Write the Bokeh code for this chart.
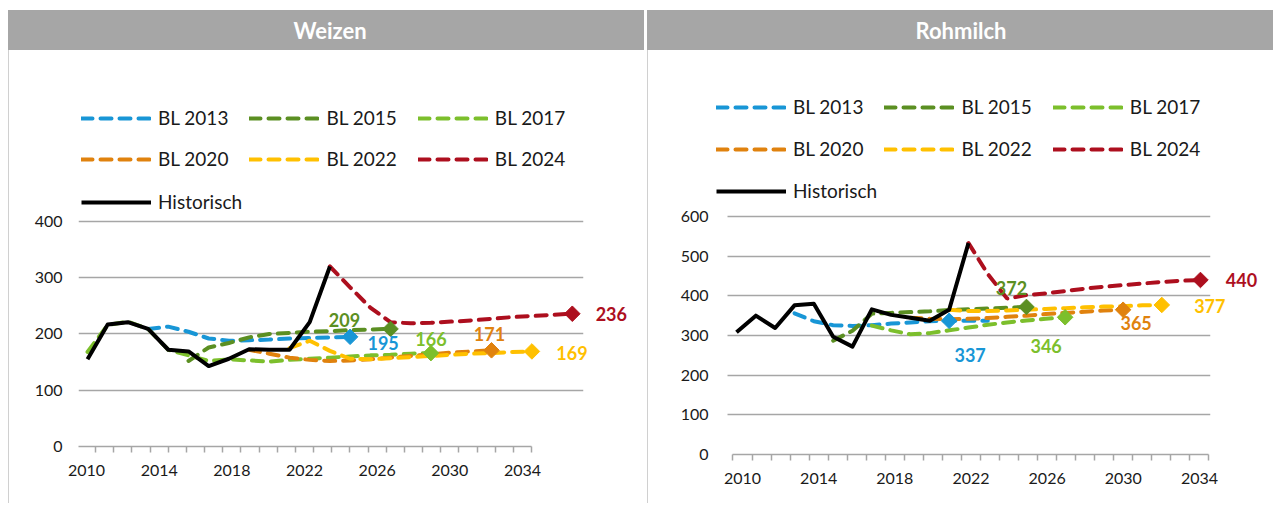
import math
from bokeh.plotting import figure
from bokeh.models import Range1d, LinearAxis, FixedTicker, Legend, LegendItem, Grid
from bokeh.layouts import row, column
from bokeh.embed import file_html
from bokeh.resources import INLINE
from bokeh.core.properties import value

FONT = "Lato"
GRID = "#a6a6a6"
HEAD = "#a6a6a6"
TEXT = "#1a1a1a"

# ---------------- data ----------------
series_names = ["BL 2013", "BL 2015", "BL 2017", "BL 2020", "BL 2022", "BL 2024"]
series_colors = ["#1896d6", "#5b8f22", "#7cbf2c", "#e0820e", "#ffc000", "#ad0f1e"]
hist_name = "Historisch"
tick_years = [2010, 2014, 2018, 2022, 2026, 2030, 2034]
category_years = list(range(2010, 2035))

# Weizen
w_hist_years = list(range(2010, 2023))
w_hist = [155, 217, 221, 209, 172, 169, 143, 156, 173, 172, 172, 221, 320]
w_years = [
    list(range(2013, 2024)),
    list(range(2015, 2026)),
    list(range(2010, 2028)),
    list(range(2018, 2031)),
    list(range(2020, 2033)),
    list(range(2022, 2035)),
]
w_values = [
    [209, 213, 204, 192, 188, 189, 190, 192, 193, 194, 195],
    [152, 176, 184, 194, 200, 202, 204, 205, 207, 208, 209],
    [168, 216, 222, 209, 172, 162, 152, 155, 153, 151, 154, 156, 158, 160, 162, 163, 165, 166],
    [172, 165, 158, 154, 152, 153, 155, 158, 161, 164, 167, 169, 171],
    [175, 188, 170, 156, 155, 157, 159, 161, 163, 165, 166, 168, 169],
    [320, 283, 247, 221, 219, 220, 222, 224, 227, 230, 232, 234, 236],
]
w_marker_years = [2023, 2025, 2027, 2030, 2032, 2034]
w_yticks = [0, 100, 200, 300, 400]

# Rohmilch
r_hist_years = list(range(2010, 2023))
r_hist = [308, 350, 319, 376, 380, 297, 272, 366, 352, 345, 337, 365, 533]
r_years = [
    list(range(2013, 2024)),
    list(range(2015, 2026)),
    list(range(2017, 2028)),
    list(range(2019, 2031)),
    list(range(2021, 2033)),
    list(range(2022, 2035)),
]
r_values = [
    [356, 336, 326, 324, 326, 330, 333, 336, 337, 337, 337],
    [287, 312, 355, 357, 359, 361, 364, 366, 368, 370, 372],
    [325, 313, 303, 306, 313, 320, 327, 333, 338, 342, 346],
    [345, 342, 341, 342, 344, 347, 350, 354, 357, 360, 363, 365],
    [365, 362, 362, 363, 365, 367, 369, 371, 373, 374, 376, 377],
    [533, 455, 393, 402, 406, 412, 418, 423, 427, 431, 435, 438, 440],
]
r_marker_years = [2021, 2025, 2027, 2030, 2032, 2034]
r_yticks = [0, 100, 200, 300, 400, 500, 600]

# ---------------- styling / layout ----------------
HAS_CROSS = "cross_bounds" in Grid.properties()

w_cfg = dict(
    title="Weizen", width=636, mb_left=69, mb_right=62, mb_bottom=57,
    data_x=(2009.554, 2034.554), axis_x=(2009.555, 2037.36), y_end=686.2,
    leg_x=3, leg_y=[317, 276, 233], standoff=16, cross=None,
    label_dx=[33, -46, 0, -2, 40, 39], label_dy=[6, -9, -14, -16, 2, 0],
)
if HAS_CROSS:
    r_cfg = dict(
        title="Rohmilch", width=626, mb_left=65, mb_right=64, mb_bottom=49,
        data_x=(2008.81, 2034.52), axis_x=(2008.476, 2034.58), y_end=993.3,
        leg_x=3, leg_y=[336, 294, 252], standoff=5, cross=(2009.534, 2034.52),
        label_dx=[21, -15, -19, 13, 48, 41], label_dy=[34, -19, 29, 13, 1, 0],
    )
else:
    r_cfg = dict(
        title="Rohmilch", width=626, mb_left=79, mb_right=64, mb_bottom=49,
        data_x=(2009.534, 2034.52), axis_x=(2009.211, 2034.58), y_end=993.3,
        leg_x=-11, leg_y=[336, 294, 252], standoff=18, cross=None,
        label_dx=[21, -15, -19, 13, 48, 41], label_dy=[34, -19, 29, 13, 1, 0],
    )


def header(title, width):
    h = figure(width=width, height=40, x_range=Range1d(0, 1), y_range=Range1d(0, 1),
               x_axis_type=None, y_axis_type=None, output_backend="svg",
               toolbar_location=None, min_border_left=0, min_border_right=0,
               min_border_top=0, min_border_bottom=0,
               background_fill_color=HEAD, border_fill_color=HEAD,
               outline_line_color=None)
    bg = h.rect(x=[0.5], y=[0.5], width=[3000], height=[200], width_units="screen",
                height_units="screen", fill_color=HEAD, line_color=None)
    bg.level = "annotation"
    t = h.text(x=[0.5], y=[0.5], text=[title], text_align="center", text_baseline="middle",
               text_color="white", text_font=value(FONT), text_font_style="bold",
               text_font_size="22px")
    t.level = "annotation"
    return h


def chart(cfg, hist_years, hist, years, values, marker_years, yticks):
    p = figure(width=cfg["width"], height=453,
               x_range=Range1d(*cfg["data_x"]), y_range=Range1d(0, cfg["y_end"]),
               x_axis_type=None, y_axis_type=None, output_backend="svg",
               toolbar_location=None, min_border_left=cfg["mb_left"],
               min_border_right=cfg["mb_right"], min_border_top=10,
               min_border_bottom=cfg["mb_bottom"], outline_line_color=None,
               background_fill_color="white", border_fill_color="white")
    p.extra_x_ranges = {"ax": Range1d(*cfg["axis_x"])}

    xa = LinearAxis(x_range_name="ax",
                    ticker=FixedTicker(ticks=tick_years,
                                       minor_ticks=[y - 0.5 for y in category_years + [2035]]),
                    bounds=(2009.5, 2034.5))
    xa.axis_line_color = GRID
    xa.axis_line_width = 1.5
    xa.major_tick_out = 0
    xa.major_tick_in = 0
    xa.minor_tick_out = 6
    xa.minor_tick_in = 0
    xa.minor_tick_line_color = GRID
    xa.minor_tick_line_width = 1.5
    xa.major_label_standoff = 12
    xa.major_label_text_font = FONT
    xa.major_label_text_font_size = "16px"
    xa.major_label_text_color = TEXT
    p.add_layout(xa, "below")

    yt = FixedTicker(ticks=yticks, minor_ticks=[])
    ya = LinearAxis(ticker=yt)
    ya.axis_line_color = None
    ya.major_tick_line_color = None
    ya.minor_tick_line_color = None
    ya.major_tick_out = 0
    ya.major_tick_in = 0
    ya.minor_tick_out = 0
    ya.major_label_standoff = cfg["standoff"]
    ya.major_label_text_font = FONT
    ya.major_label_text_font_size = "16px"
    ya.major_label_text_color = TEXT
    p.add_layout(ya, "left")
    g = Grid(dimension=1, ticker=yt, grid_line_color=GRID, grid_line_width=1.5)
    if cfg["cross"] is not None:
        g.cross_bounds = cfg["cross"]
    p.add_layout(g)

    renderers = []
    for i, name in enumerate(series_names):
        r = p.line(years[i], values[i], line_color=series_colors[i], line_width=4,
                   line_dash="11 8", line_cap="round")
        renderers.append(r)
    rh = p.line(hist_years, hist, line_color="black", line_width=4, line_join="round")
    renderers.append(rh)

    # end markers and value labels
    for i, name in enumerate(series_names):
        my = marker_years[i]
        mv = values[i][years[i].index(my)]
        p.scatter([my], [mv], marker="square", angle=math.pi / 4, size=11,
                  color=series_colors[i])
        t = p.text(x=[my], y=[mv], text=[str(mv)], x_offset=cfg["label_dx"][i],
                   y_offset=cfg["label_dy"][i], text_align="center", text_baseline="middle",
                   text_color=series_colors[i], text_font=value(FONT),
                   text_font_style="bold", text_font_size="18px")
        t.level = "annotation"

    names = series_names + [hist_name]
    rows_idx = [[0, 1, 2], [3, 4, 5], [6]]
    for ri, idxs in enumerate(rows_idx):
        items = [LegendItem(label=names[k], renderers=[renderers[k]]) for k in idxs]
        lg = Legend(items=items, orientation="horizontal",
                    location=(cfg["leg_x"], cfg["leg_y"][ri]),
                    glyph_width=70, glyph_height=20, label_height=20,
                    label_standoff=7, spacing=21, padding=0, margin=0,
                    border_line_alpha=0, background_fill_alpha=0,
                    label_text_font=FONT, label_text_font_size="19px",
                    label_text_color=TEXT)
        p.add_layout(lg)
    p.styles = {"border-left": "1px solid #d0d0d0"}
    return p


left = column(header("Weizen", w_cfg["width"]),
              chart(w_cfg, w_hist_years, w_hist, w_years, w_values, w_marker_years, w_yticks),
              spacing=0)
right = column(header("Rohmilch", r_cfg["width"]),
               chart(r_cfg, r_hist_years, r_hist, r_years, r_values, r_marker_years, r_yticks),
               spacing=0)
layout = row(left, right, spacing=3, margin=(10, 0, 0, 8))

open("out.html", "w").write(file_html(layout, INLINE))
